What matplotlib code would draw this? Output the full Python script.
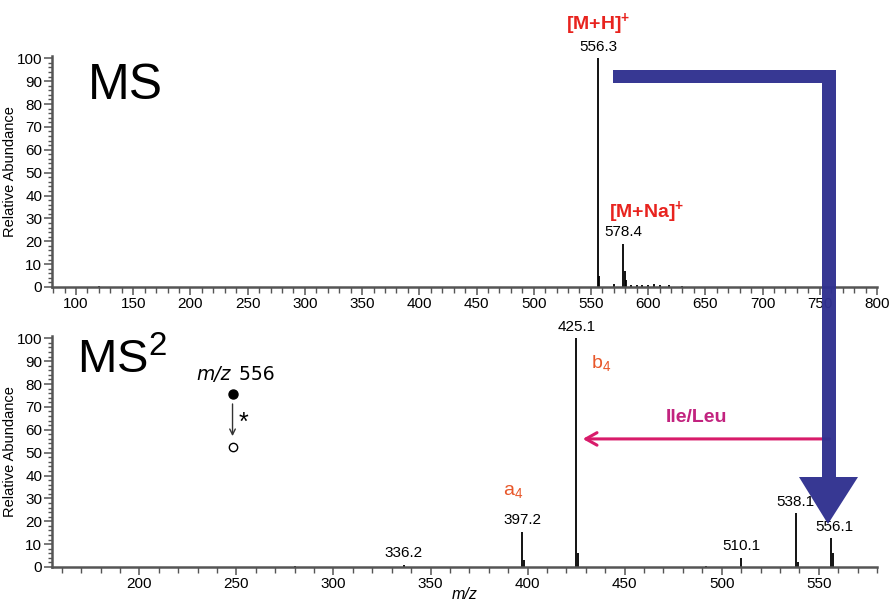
import numpy as np
import matplotlib
matplotlib.use("Agg")
from matplotlib import pyplot as plt
from matplotlib.patches import Polygon
from matplotlib.ticker import MultipleLocator

plt.rcParams['font.family'] = ['Liberation Sans', 'DejaVu Sans']
plt.rcParams['mathtext.fontset'] = 'custom'
plt.rcParams['mathtext.rm'] = 'Liberation Sans'
plt.rcParams['mathtext.bf'] = 'Liberation Sans:bold'
plt.rcParams['mathtext.it'] = 'Liberation Sans:italic'

# MS spectrum (full scan), sticks: m/z and relative abundance
ms_mz = [120.0, 556.3, 557.3, 570.0, 578.4, 579.4, 580.4, 585.0, 590.0,
         595.0, 600.0, 605.0, 610.0, 618.0, 630.0]
ms_int = [0.6, 100.0, 5.0, 1.2, 19.0, 7.0, 3.0, 1.0, 0.8,
          1.0, 1.0, 1.2, 1.0, 0.7, 0.4]

# MS2 spectrum of m/z 556
ms2_mz = [280.0, 336.2, 397.2, 398.2, 425.1, 426.1, 492.0, 510.1,
          538.1, 539.1, 556.1, 557.1]
ms2_int = [0.5, 1.0, 15.5, 3.0, 100.0, 6.0, 0.5, 4.0,
           23.5, 2.0, 12.5, 6.0]

ms_labels = [(556.3, "556.3"), (578.4, "578.4")]
ms2_labels = [(336.2, "336.2"), (397.2, "397.2"), (425.1, "425.1"),
              (510.1, "510.1"), (538.1, "538.1"), (556.1, "556.1")]

W, H = 892, 606
fig = plt.figure(figsize=(W / 100, H / 100), dpi=100)


def px(x, y):
    return x / W, 1 - y / H


axc = "#555555"


def style(ax, xlim, major, minor):
    ax.set_xlim(*xlim)
    ax.set_ylim(0, 101)
    for s in ["top", "right"]:
        ax.spines[s].set_visible(False)
    for s in ["left", "bottom"]:
        ax.spines[s].set_color(axc)
        ax.spines[s].set_linewidth(1.8)
    ax.xaxis.set_major_locator(MultipleLocator(major))
    ax.xaxis.set_minor_locator(MultipleLocator(minor))
    ax.yaxis.set_major_locator(MultipleLocator(10))
    ax.yaxis.set_minor_locator(MultipleLocator(2))
    ax.tick_params(axis="both", which="major", direction="out", length=6,
                   width=1.1, color=axc, labelsize=11, pad=1)
    ax.tick_params(axis="both", which="minor", direction="out", length=4,
                   width=1.0, color=axc)
    ax.tick_params(axis="y", which="minor", length=3)
    ax.set_ylabel("Relative Abundance", fontsize=10.5, labelpad=0)


# top: MS
ax1 = fig.add_axes([52 / W, 1 - 287 / H, 825 / W, 231 / H])
style(ax1, (79, 800), 50, 10)
ax1.vlines(ms_mz, 0, ms_int, color="black", lw=1.3)
for mz, t in ms_labels:
    h = ms_int[ms_mz.index(mz)]
    ax1.text(mz, h + 2, t, ha="center", va="bottom", fontsize=11)
ax1.text(556.3, 115, r"$\mathbf{[M{+}H]^{+}}$", color="#e8231e",
         ha="center", va="center", fontsize=14, clip_on=False)
ax1.text(599, 33, r"$\mathbf{[M{+}Na]^{+}}$", color="#e8231e",
         ha="center", va="center", fontsize=14)
ax1.text(0.043, 0.97, "MS", transform=ax1.transAxes, fontsize=36,
         va="top", ha="left")

# bottom: MS2
ax2 = fig.add_axes([52 / W, 1 - 567 / H, 825 / W, 231 / H])
style(ax2, (155, 580), 50, 10)
ax2.vlines(ms2_mz, 0, ms2_int, color="black", lw=1.3)
for mz, t in ms2_labels:
    h = ms2_int[ms2_mz.index(mz)]
    dx = 2 if mz == 556.1 else 0
    ax2.text(mz + dx, h + 2, t, ha="center", va="bottom", fontsize=11)
ax2.set_xlabel("m/z", fontstyle="italic", fontsize=11.5, labelpad=-3)
ax2.text(0.03, 0.99, "MS$^2$", transform=ax2.transAxes, fontsize=34,
         va="top", ha="left")
ax2.text(392.5, 33, "a$_4$", color="#e8572a", fontsize=14, ha="center",
         va="center")
ax2.text(438, 89, "b$_4$", color="#e8572a", fontsize=14, ha="center",
         va="center")

# precursor scheme
ax2.text(247, 80, "m/z", fontstyle="italic", fontsize=13.5, ha="right",
         va="bottom", family="DejaVu Sans")
ax2.text(248, 80, " 556", fontsize=13.5, ha="left", va="bottom",
         family="DejaVu Sans")
ax2.plot([248], [75.5], "o", color="black", ms=6.5)
ax2.plot([248], [52.5], "o", mfc="white", mec="black", ms=6, mew=1)
ax2.annotate("", xy=(248, 56), xytext=(248, 72.5),
             arrowprops=dict(arrowstyle="->", color="#333333", lw=1))
ax2.text(253.5, 63, "*", fontsize=18, ha="center", va="center")

# Ile/Leu loss arrow
ax2.annotate("", xy=(427, 56), xytext=(557, 56),
             arrowprops=dict(arrowstyle="->,head_length=0.8,head_width=0.45",
                             color="#d81b6a", lw=2.2))
ax2.text(487, 65.5, "Ile/Leu", color="#c2237f", fontweight="bold",
         fontsize=14, ha="center", va="center")

# big blue arrow from MS precursor to MS2
pts = [(613, 70), (836, 70), (836, 477), (858, 477), (828, 524),
       (799, 477), (822, 477), (822, 83), (613, 83)]
fig.patches.append(Polygon([px(x, y) for x, y in pts], closed=True,
                           transform=fig.transFigure, facecolor="#303190",
                           edgecolor="none", alpha=0.97, zorder=10))

fig.savefig("out.png", dpi=100)
